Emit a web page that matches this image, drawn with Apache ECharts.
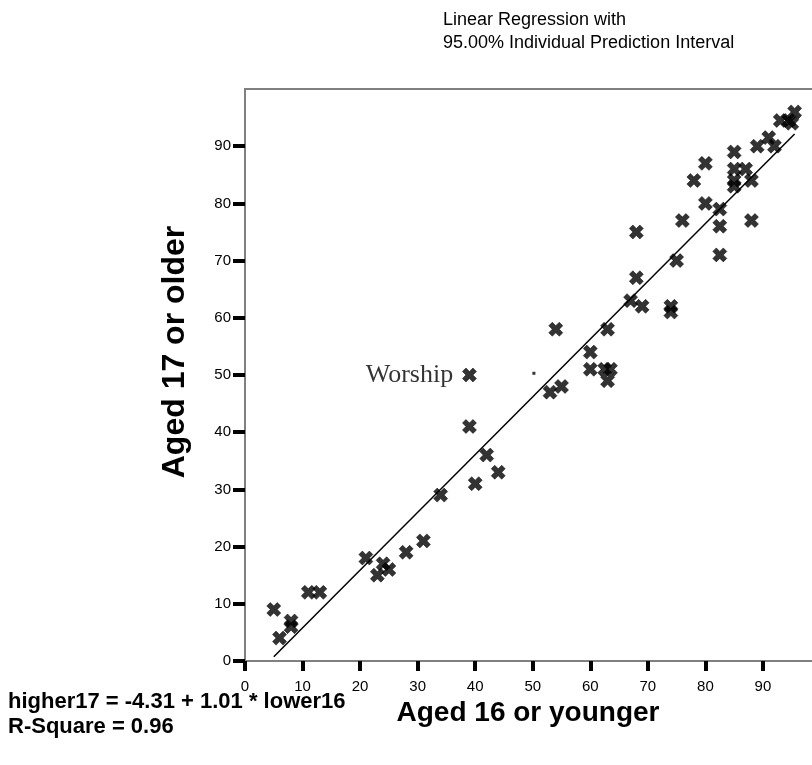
<!DOCTYPE html>
<html>
<head>
<meta charset="utf-8">
<title>Aged 16 or younger vs Aged 17 or older</title>
<script src="https://cdn.jsdelivr.net/npm/echarts@6/dist/echarts.min.js"></script>
<style>
  html, body { margin: 0; padding: 0; overflow: hidden; background: #fff; }
  #chart { width: 830px; height: 765px; }
</style>
</head>
<body>
<div id="chart"></div>
<script>
// Scores per item: respondents aged 16 or younger vs aged 17 or older
const lower16 = [5, 6, 8, 8, 11, 13, 21, 23, 24, 25, 28, 31, 34, 39, 40, 42, 44,
  53, 55, 54, 60, 60, 62.5, 63.5, 63, 63, 67, 68, 68, 69, 74, 74, 75, 76, 78,
  80, 80, 82.5, 82.5, 82.5, 85, 85, 85, 85, 87, 88, 88, 89, 91, 92, 93, 94.5, 95, 95.5];
const higher17 = [9, 4, 7, 6, 12, 12, 18, 15, 17, 16, 19, 21, 29, 41, 31, 36, 33,
  47, 48, 58, 54, 51, 51, 51, 49, 58, 63, 67, 75, 62, 62, 61, 70, 77, 84,
  87, 80, 79, 76, 71, 89, 86, 84, 83, 86, 84, 77, 90, 91.5, 90, 94.5, 94.5, 94, 96];

// Labelled outlier
const outlierName = 'Worship';
const outlierPoint = [39, 50];

// Stray mark
const strayPoint = [50.2, 50.3];

// Fitted model: higher17 = -4.31 + 1.01 * lower16
const intercept = -4.31;
const slope = 1.01;
const rSquare = 0.96;

const xTicks = [0, 10, 20, 30, 40, 50, 60, 70, 80, 90];
const yTicks = [0, 10, 20, 30, 40, 50, 60, 70, 80, 90];

const points = lower16.map((x, i) => [x, higher17[i]]);
const allX = lower16.concat([outlierPoint[0]]);
const xMin = Math.min(...allX), xMax = Math.max(...allX);
const fitLine = [[xMin, intercept + slope * xMin], [xMax, intercept + slope * xMax]];

// Bold "x" marker
const crossPath = 'path://M0,3 L3,0 L6,3 L9,0 L12,3 L9,6 L12,9 L9,12 L6,9 L3,12 L0,9 L3,6 Z';
const markerStyle = { color: '#000', borderColor: '#000', borderWidth: 0.6 };

const chart = echarts.init(document.getElementById('chart'), null, { renderer: 'canvas' });

const sans = 'Liberation Sans, Arial, sans-serif';
const tickLabelFont = { fontFamily: sans, fontSize: 15, color: '#000' };

chart.setOption({
  backgroundColor: '#fff',
  animation: false,
  grid: {
    left: 245, top: 89, right: 9.5, bottom: 104,
    show: true, borderColor: '#808080', borderWidth: 2, backgroundColor: 'transparent'
  },
  xAxis: {
    type: 'value', min: 0, max: 100, interval: 10,
    axisLine: { show: true, onZero: false, lineStyle: { color: '#808080', width: 2 } },
    axisTick: { show: true, length: 10, customValues: xTicks, lineStyle: { color: '#000', width: 4 } },
    axisLabel: Object.assign({ margin: 18, customValues: xTicks }, tickLabelFont),
    splitLine: { show: false }
  },
  yAxis: {
    type: 'value', min: 0, max: 100, interval: 10,
    axisLine: { show: true, onZero: false, lineStyle: { color: '#808080', width: 2 } },
    axisTick: { show: true, length: 12, customValues: yTicks, lineStyle: { color: '#000', width: 4 } },
    axisLabel: Object.assign({ margin: 14, customValues: yTicks }, tickLabelFont),
    splitLine: { show: false }
  },
  series: [
    {
      name: 'Fit', type: 'line', data: fitLine, symbol: 'none',
      lineStyle: { color: '#000', width: 1.5 }, z: 2, silent: true
    },
    {
      name: 'Items', type: 'scatter', data: points,
      symbol: crossPath, symbolSize: 14,
      itemStyle: markerStyle, z: 3
    },
    {
      name: outlierName, type: 'scatter', data: [outlierPoint],
      symbol: crossPath, symbolSize: 14,
      itemStyle: markerStyle, z: 3,
      label: {
        show: true, position: 'left', distance: 9, formatter: outlierName,
        fontFamily: 'Liberation Serif, Times New Roman, serif', fontSize: 26, color: '#000'
      }
    },
    {
      name: 'Stray', type: 'scatter', data: [strayPoint],
      symbol: 'rect', symbolSize: 3, itemStyle: { color: '#000' }, z: 3
    }
  ],
  graphic: [
    {
      type: 'text', left: 443, top: 9,
      style: {
        text: 'Linear Regression with\n95.00% Individual Prediction Interval',
        font: '18px ' + sans, fill: '#000', lineHeight: 23
      }
    },
    {
      type: 'text', left: 8, top: 689,
      style: {
        text: 'higher17 = ' + intercept.toFixed(2) + ' + ' + slope.toFixed(2) + ' * lower16\nR-Square = ' + rSquare.toFixed(2),
        font: 'bold 22px ' + sans, fill: '#000', lineHeight: 25
      }
    },
    {
      // x axis title
      type: 'text', x: 528, y: 713,
      style: {
        text: 'Aged 16 or younger', font: 'bold 28px ' + sans, fill: '#000',
        align: 'center', verticalAlign: 'middle'
      }
    },
    {
      // y axis title
      type: 'text', x: 175, y: 352, rotation: Math.PI / 2,
      style: {
        text: 'Aged 17 or older', font: 'bold 32px ' + sans, fill: '#000',
        align: 'center', verticalAlign: 'middle'
      }
    }
  ]
});
</script>
</body>
</html>
